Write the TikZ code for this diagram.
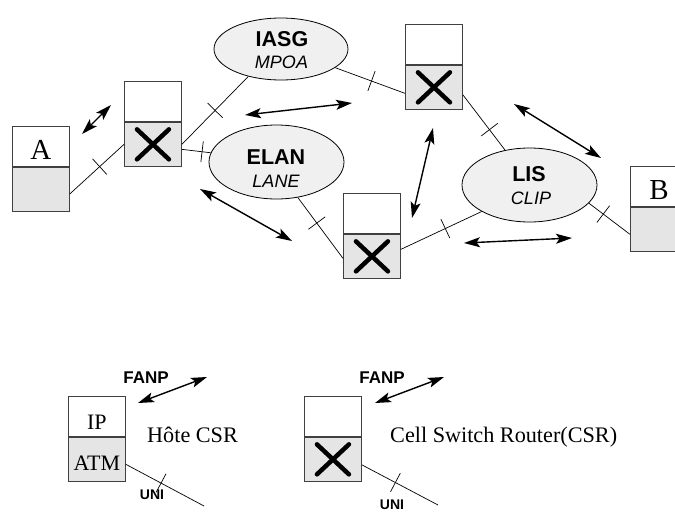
\documentclass[tikz,border=0pt]{standalone}
\usepackage{fontspec}
\setmainfont{Liberation Serif}
\setsansfont{Liberation Sans}
\usetikzlibrary{arrows.meta,shapes.geometric}
\begin{document}
\begin{tikzpicture}[x=1pt,y=-1pt,
 ub/.style={draw=black!75,line width=0.9pt,fill=white,minimum width=57pt,minimum height=40pt,inner sep=0pt,text height=27pt,text depth=0pt,font=\fontsize{29}{31}\selectfont},
 lb/.style={draw=black!75,line width=0.9pt,fill=gray!20,minimum width=57pt,minimum height=44pt,inner sep=0pt,text height=22pt,text depth=0pt},
 xb/.style={lb,path picture={\draw[draw=black,line width=4.5pt,line cap=round]
   ([xshift=-16pt,yshift=-15pt]path picture bounding box.center) -- ([xshift=16pt,yshift=15pt]path picture bounding box.center)
   ([xshift=-16pt,yshift=15pt]path picture bounding box.center) -- ([xshift=16pt,yshift=-15pt]path picture bounding box.center);}},
 ell/.style={ellipse,draw,line width=0.8pt,fill=gray!12,inner sep=0pt},
 ttl/.style={font=\sffamily\bfseries\fontsize{21.5}{24}\selectfont,inner sep=0pt},
 sub/.style={font=\sffamily\itshape\fontsize{18}{20}\selectfont,inner sep=0pt},
 small/.style={font=\sffamily\bfseries\fontsize{17}{19}\selectfont,inner sep=0pt},
 tiny/.style={font=\sffamily\bfseries\fontsize{14}{16}\selectfont,inner sep=0pt},
 desc/.style={font=\fontsize{22.2}{25}\selectfont,inner sep=0pt},
 link/.style={line width=0.7pt},
 tick/.style={sloped,draw,line width=0.7pt,rectangle,minimum width=0pt,minimum height=21pt,inner sep=0pt},
 arr/.style={{Stealth[length=16pt,width=10pt,inset=3.5pt]}-{Stealth[length=16pt,width=10pt,inset=3.5pt]},line width=1.4pt}
]
\useasboundingbox (0,0) rectangle (675,512);

% boxes
\node[ub,anchor=north west] (Au) at (12,126) {A};
\node[lb,anchor=north] (Al) at (Au.south) {};
\node[ub,anchor=north west] (S1u) at (124,81) {};
\node[xb,anchor=north] (S1l) at (S1u.south) {};
\node[ub,anchor=north west] (S2u) at (405,24) {};
\node[xb,anchor=north] (S2l) at (S2u.south) {};
\node[ub,anchor=north west] (S3u) at (343,193) {};
\node[xb,anchor=north] (S3l) at (S3u.south) {};
\node[ub,anchor=north west] (Bu) at (630,166) {B};
\node[lb,anchor=north] (Bl) at (Bu.south) {};

% ellipses
\node[ell,minimum width=134pt,minimum height=62pt] (iasg) at (281,49) {};
\node[ttl] (iasgT) at (282,39.5) {IASG};
\node[sub] (iasgS) at (281.5,62.5) {MPOA};
\node[ell,minimum width=135pt,minimum height=74pt] (elan) at (276.5,162) {};
\node[ttl] (elanT) at (276,157) {ELAN};
\node[sub] (elanS) at (276,181.5) {LANE};
\node[ell,minimum width=135pt,minimum height=74pt] (lis) at (529.5,185) {};
\node[ttl] (lisT) at (529,174) {LIS};
\node[sub] (lisS) at (531,198.5) {CLIP};

% links
\draw[link] ([yshift=-4.5pt]Al.east) -- node[tick,pos=0.55]{} (S1l.west);
\draw[link] (S1l.east) -- node[tick,pos=0.5]{} (iasg.220);
\draw[link] ([yshift=-5pt]S1l.east) -- node[tick,pos=0.7]{} (elan.172);
\draw[link] (iasg.-19) -- node[tick,pos=0.52]{} ([yshift=-6pt]S2l.west);
\draw[link] (elan.-59) -- node[tick,pos=0.42]{} ([yshift=-2pt]S3l.west);
\draw[link] ([yshift=7pt]S3l.east) -- node[tick,pos=0.55]{} (lis.209);
\draw[link] ([yshift=-7.5pt]S2l.east) -- node[tick,pos=0.63]{} (lis.125);
\draw[link] (lis.-17) -- node[tick,pos=0.35]{} ([yshift=-5pt]Bl.west);

% arrows
\coordinate (a1s) at (82,134);  \coordinate (a1e) at (111,105);
\coordinate (a2s) at (245,115); \coordinate (a2e) at (352,103);
\coordinate (a3s) at (200,189); \coordinate (a3e) at (292,241);
\coordinate (a4s) at (412,218); \coordinate (a4e) at (433,128);
\coordinate (a5s) at (514,104); \coordinate (a5e) at (601,158);
\coordinate (a6s) at (464,243); \coordinate (a6e) at (572,238);
\draw[arr] (a1s) -- (a1e);
\draw[arr] (a2s) -- (a2e);
\draw[arr] (a3s) -- (a3e);
\draw[arr] (a4s) -- (a4e);
\draw[arr] (a5s) -- (a5e);
\draw[arr] (a6s) -- (a6e);

% legend: host
\node[ub,anchor=north west,font=\fontsize{22}{24}\selectfont] (IPu) at (68,396) {IP};
\node[lb,anchor=north,font=\fontsize{22}{24}\selectfont] (IPl) at (IPu.south) {ATM};
\node[desc,anchor=base west] (hote) at (147,442) {Hôte CSR};
\node[small] (fanp1) at (146,378) {FANP};
\coordinate (a7s) at (138,403); \coordinate (a7e) at (207,377);
\draw[arr] (a7s) -- (a7e);
\coordinate (u1e) at (204,506);
\draw[link] ([yshift=-5pt]IPl.east) -- node[tick,pos=0.45]{} (u1e);
\node[tiny] (uni1) at (152,495) {UNI};

% legend: CSR
\node[ub,anchor=north west] (Cu) at (304,396) {};
\node[xb,anchor=north] (Cl) at (Cu.south) {};
\node[desc,anchor=base west] (csrtext) at (390,442) {Cell Switch Router(CSR)};
\node[small] (fanp2) at (382,378) {FANP};
\coordinate (a8s) at (375,403); \coordinate (a8e) at (444,377);
\draw[arr] (a8s) -- (a8e);
\coordinate (u2e) at (438,505);
\draw[link] ([yshift=-5.5pt]Cl.east) -- node[tick,pos=0.44]{} (u2e);
\node[tiny] (uni2) at (392,505) {UNI};
\end{tikzpicture}
\end{document}
